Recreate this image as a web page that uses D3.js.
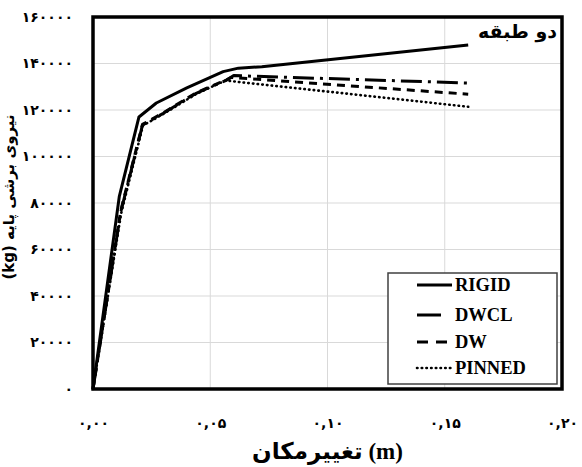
<!DOCTYPE html>
<html>
<head>
<meta charset="utf-8">
<script src="https://cdn.jsdelivr.net/npm/d3@7"></script>
<style>
  html, body { margin: 0; padding: 0; background: #fff; }
  svg { display: block; }
</style>
</head>
<body>
<svg id="chart" width="582" height="467"></svg>
<script>
// ---- data ----
const seriesNames = ["RIGID", "DWCL", "DW", "PINNED"];
const rigidX  = [0, 0.0112, 0.0196, 0.027, 0.040, 0.0555, 0.062, 0.072, 0.16];
const rigidY  = [0, 82700, 117000, 123000, 129500, 136500, 138000, 138600, 148000];
const dwclX   = [0, 0.0118, 0.0211, 0.030, 0.044, 0.057, 0.060, 0.16];
const dwclY   = [0, 76000, 113500, 118600, 127200, 132900, 134800, 131600];
const dwX     = [0, 0.0118, 0.0211, 0.030, 0.044, 0.057, 0.059, 0.16];
const dwY     = [0, 76500, 113800, 118800, 127400, 133000, 134000, 126800];
const pinnedX = [0, 0.0120, 0.0213, 0.030, 0.044, 0.0565, 0.0625, 0.16];
const pinnedY = [0, 75500, 113300, 118300, 126900, 132700, 132000, 121400];

const xTicks = [0, 0.05, 0.10, 0.15, 0.20];
const xTickLabels = ["۰,۰۰", "۰,۰۵", "۰,۱۰", "۰,۱۵", "۰,۲۰"];
const yTicks = [0, 20000, 40000, 60000, 80000, 100000, 120000, 140000, 160000];
const yTickLabels = ["۰", "۲۰۰۰۰", "۴۰۰۰۰", "۶۰۰۰۰", "۸۰۰۰۰", "۱۰۰۰۰۰", "۱۲۰۰۰۰", "۱۴۰۰۰۰", "۱۶۰۰۰۰"];
const titleText = "دو طبقه";
const xTitle = "تغییرمکان (m)";
const yTitle = "(kg) نیروی برشی پایه";

// ---- layout ----
const svg = d3.select("#chart");
const L = 93, R = 562, T = 17, B = 389;
const x = d3.scaleLinear().domain([0, 0.20]).range([L, R]);
const y = d3.scaleLinear().domain([0, 160000]).range([B, T]);

const seriesData = [
  {name: "RIGID",  xs: rigidX,  ys: rigidY,  dash: null,       width: 3,   cap: "butt"},
  {name: "DWCL",   xs: dwclX,   ys: dwclY,   dash: "21,6,3,6", width: 3,   cap: "butt"},
  {name: "DW",     xs: dwX,     ys: dwY,     dash: "8,6",      width: 3,   cap: "butt"},
  {name: "PINNED", xs: pinnedX, ys: pinnedY, dash: "0.5,4.2",  width: 2.6, cap: "round"}
];

// grid
svg.append("g").selectAll("line.h").data(yTicks.slice(1, -1)).join("line")
  .attr("x1", L).attr("x2", R).attr("y1", d => y(d)).attr("y2", d => y(d))
  .attr("stroke", "#d9d9d9").attr("stroke-width", 1);
svg.append("g").selectAll("line.v").data(xTicks.slice(1, -1)).join("line")
  .attr("y1", T).attr("y2", B).attr("x1", d => x(d)).attr("x2", d => x(d))
  .attr("stroke", "#d9d9d9").attr("stroke-width", 1);

// axes (labels only)
const yAxis = d3.axisLeft(y).tickValues(yTicks).tickSize(0).tickPadding(0)
  .tickFormat((d, i) => yTickLabels[i]);
const gy = svg.append("g").attr("transform", `translate(${L - 20},0)`).call(yAxis);
gy.select(".domain").remove();
gy.selectAll("text").attr("font-family", "DejaVu Sans").attr("font-weight", "bold")
  .attr("font-size", 14).attr("fill", "#000").attr("dy", "0.32em");

const xAxis = d3.axisBottom(x).tickValues(xTicks).tickSize(0).tickPadding(0)
  .tickFormat((d, i) => xTickLabels[i]);
const gx = svg.append("g").attr("transform", `translate(0,${B + 29})`).call(xAxis);
gx.select(".domain").remove();
gx.selectAll("text").attr("font-family", "DejaVu Sans").attr("font-weight", "bold")
  .attr("font-size", 14).attr("fill", "#000").attr("dy", "0.71em");

// lines
const line = d3.line().x(d => x(d[0])).y(d => y(d[1]));
svg.append("g").selectAll("path").data(seriesData).join("path")
  .attr("d", s => line(s.xs.map((v, i) => [v, s.ys[i]])))
  .attr("fill", "none").attr("stroke", "#000")
  .attr("stroke-width", s => s.width)
  .attr("stroke-dasharray", s => s.dash)
  .attr("stroke-linecap", s => s.cap)
  .attr("stroke-linejoin", "round");

// frame
svg.append("rect").attr("x", L).attr("y", T).attr("width", R - L).attr("height", B - T)
  .attr("fill", "none").attr("stroke", "#000").attr("stroke-width", 3.5);

// title inside
svg.append("text").attr("x", 557).attr("y", 38).attr("text-anchor", "end")
  .attr("font-family", "DejaVu Sans").attr("font-weight", "bold").attr("font-size", 19)
  .text(titleText);

// legend
const lg = svg.append("g");
lg.append("rect").attr("x", 388).attr("y", 273).attr("width", 169).attr("height", 111)
  .attr("fill", "#fff").attr("stroke", "#404040").attr("stroke-width", 1.5);
const legY = [285, 315, 342, 368];
const legLen = [35, 24, 35, 35];
seriesData.forEach((s, i) => {
  lg.append("line").attr("x1", 417).attr("x2", 417 + legLen[i])
    .attr("y1", legY[i]).attr("y2", legY[i])
    .attr("stroke", "#000").attr("stroke-width", s.width)
    .attr("stroke-dasharray", s.name === "DW" ? "11,8" : (s.name === "DWCL" ? null : s.dash))
    .attr("stroke-linecap", s.cap);
  lg.append("text").attr("x", 455).attr("y", legY[i]).attr("dy", "0.35em")
    .attr("font-family", "Liberation Serif").attr("font-weight", "bold").attr("font-size", 18.5)
    .text(seriesNames[i]);
});

// axis titles
svg.append("text").attr("x", (L + R) / 2).attr("y", 459).attr("text-anchor", "middle")
  .attr("font-family", "Liberation Serif, DejaVu Sans").attr("font-weight", "bold")
  .attr("font-size", 23).text(xTitle);
svg.append("text").attr("transform", "translate(14,197) rotate(-90)")
  .attr("text-anchor", "middle")
  .attr("font-family", "DejaVu Sans").attr("font-weight", "bold")
  .attr("font-size", 15).text(yTitle);
</script>
</body>
</html>
